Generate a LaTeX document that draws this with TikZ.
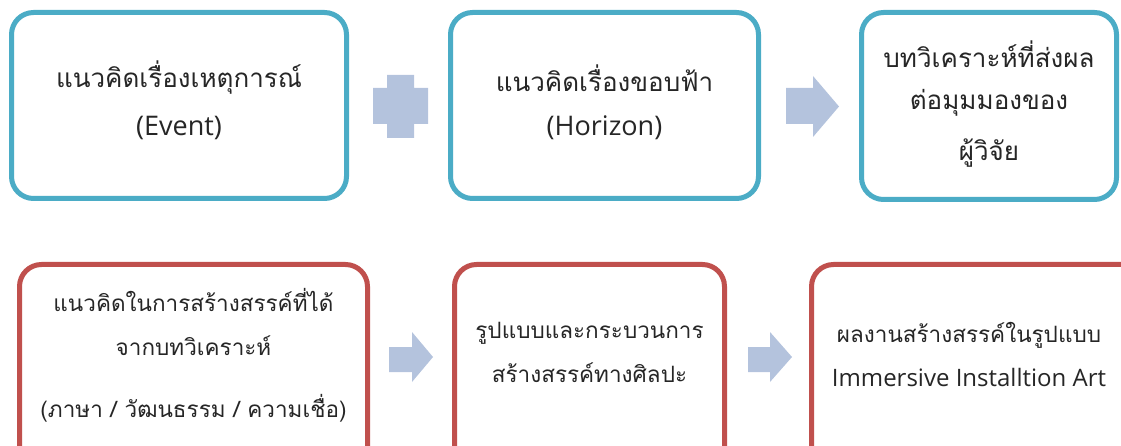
\documentclass[tikz,border=0pt]{standalone}
\usepackage{fontspec}
\newfontfamily\thaifont[Script=Thai]{Loma}
\newfontfamily\latinfont{Open Sans}
\definecolor{boxteal}{RGB}{75,172,198}
\definecolor{boxred}{RGB}{192,80,77}
\definecolor{arrowblue}{RGB}{180,195,221}
\begin{document}
\begin{tikzpicture}[x=1pt,y=-1pt,
  basebox/.style={draw, line width=5pt, rounded corners=22pt, fill=white, inner sep=0pt},
  topbox/.style={basebox, draw=boxteal},
  botbox/.style={basebox, draw=boxred},
  txt/.style={inner sep=0pt, text=black!85},
  toptxt/.style={txt, font=\thaifont\fontsize{26}{30}\selectfont},
  toplat/.style={txt, font=\latinfont\fontsize{27}{30}\selectfont},
  bottxt/.style={txt, font=\thaifont\fontsize{22.5}{27}\selectfont},
  botlat/.style={txt, font=\latinfont\fontsize{24}{27}\selectfont},
  blockarrow/.style={fill=arrowblue}]
\useasboundingbox (0,0) rectangle (1121,446);
\clip (0,0) rectangle (1121,446);
% top row boxes
\node[topbox, minimum width=335pt, minimum height=186pt] (b1) at (179,105.5) {};
\node[topbox, minimum width=308pt, minimum height=186pt] (b2) at (604.5,105.5) {};
\node[topbox, minimum width=255pt, minimum height=187pt] (b3) at (989,106) {};
% bottom row boxes
\node[botbox, minimum width=348pt, minimum height=223pt] (b4) at (193.5,376) {};
\node[botbox, minimum width=270pt, minimum height=223pt] (b5) at (589.5,376) {};
\node[botbox, minimum width=346pt, minimum height=223pt] (b6) at (984.5,376) {};
% texts
\node[toptxt] (t1a) at (179,78) {แนวคิดเรื่องเหตุการณ์};
\node[toplat] (t1b) at (179,128) {(Event)};
\node[toptxt] (t2a) at (604.5,78) {แนวคิดเรื่องขอบฟ้า};
\node[toplat] (t2b) at (604.5,128) {(Horizon)};
\node[toptxt] (t3a) at (989,54) {บทวิเคราะห์ที่ส่งผล};
\node[toptxt] (t3b) at (989,103) {ต่อมุมมองของ};
\node[toptxt] (t3c) at (989,153) {ผู้วิจัย};
\node[bottxt] (t4a) at (193.5,300) {แนวคิดในการสร้างสรรค์ที่ได้};
\node[bottxt] (t4b) at (193.5,346) {จากบทวิเคราะห์};
\node[bottxt] (t4c) at (193.5,408) {(ภาษา / วัฒนธรรม / ความเชื่อ)};
\node[bottxt] (t5a) at (589.5,333) {รูปแบบและกระบวนการ};
\node[bottxt] (t5b) at (589.5,373) {สร้างสรรค์ทางศิลปะ};
\node[bottxt] (t6a) at (969,335) {ผลงานสร้างสรรค์ในรูปแบบ};
\node[botlat] (t6b) at (969,377) {Immersive Installtion Art};
% plus sign
\fill[blockarrow] (387,75) -- (414,75) -- (414,88) -- (428,88) -- (428,124) -- (414,124)
  -- (414,138) -- (387,138) -- (387,124) -- (373,124) -- (373,88) -- (387,88) -- cycle;
% block arrows
\fill[blockarrow] (786,88) -- (813,88) -- (813,76) -- (839,106.5) -- (813,137) -- (813,124) -- (786,124) -- cycle;
\fill[blockarrow] (389,347) -- (412,347) -- (412,332) -- (433,357) -- (412,382) -- (412,372) -- (389,372) -- cycle;
\fill[blockarrow] (748,347) -- (770,347) -- (770,332) -- (792,357) -- (770,382) -- (770,372) -- (748,372) -- cycle;
\end{tikzpicture}
\end{document}
